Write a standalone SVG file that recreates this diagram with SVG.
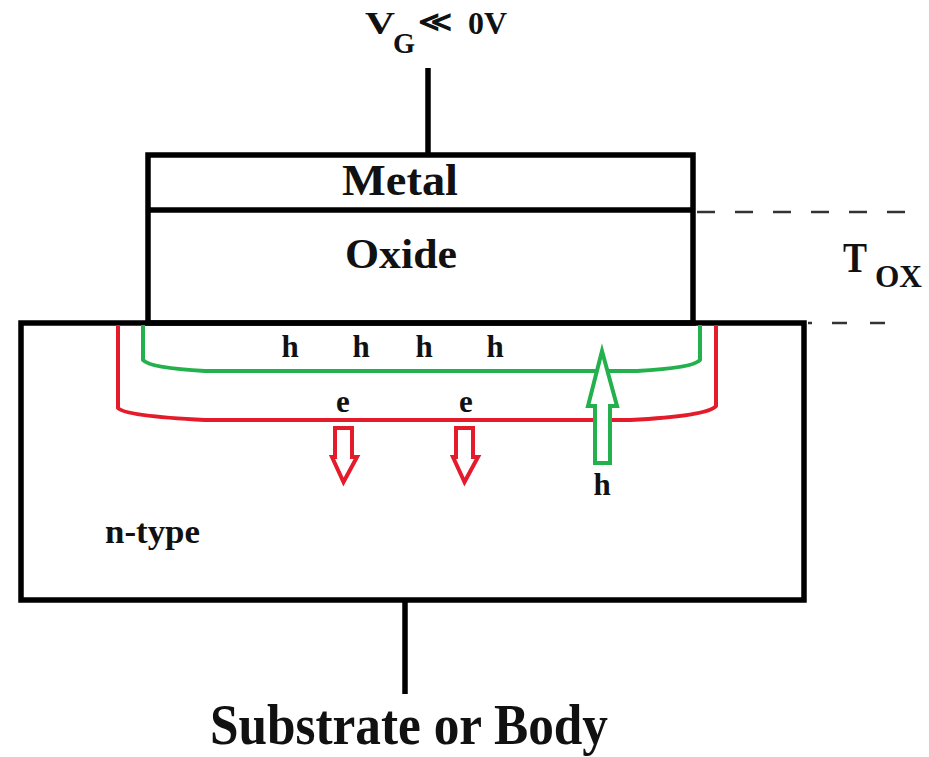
<svg xmlns="http://www.w3.org/2000/svg" width="929" height="757" viewBox="0 0 929 757">
<style>
.t{font-family:"Liberation Serif","Times New Roman",serif;font-weight:bold;fill:#111}
.blk{fill:none;stroke:#000;stroke-width:5.5}
.dash{stroke:#333;stroke-width:2.5}
.grn{fill:none;stroke:#22b14c;stroke-width:4;stroke-linejoin:round}
.red{fill:none;stroke:#e31b2b;stroke-width:4;stroke-linejoin:round}
.garr{fill:#fff;stroke:#22b14c;stroke-width:4;stroke-linejoin:miter}
.rarr{fill:#fff;stroke:#e31b2b;stroke-width:4;stroke-linejoin:miter}
</style>
<rect width="929" height="757" fill="#fff"/>
<g id="connectors">
<line class="blk" x1="428" y1="68" x2="428" y2="155"/>
<line class="blk" x1="405" y1="600" x2="405" y2="694"/>
<line class="dash" x1="697" y1="212" x2="905" y2="212" stroke-dasharray="18 20"/>
<line class="dash" x1="808" y1="323" x2="812" y2="323"/>
<line class="dash" x1="832" y1="323" x2="890" y2="323" stroke-dasharray="15 23"/>
</g>
<g id="substrate">
<rect class="blk" x="21" y="323" width="783" height="277"/>
<text class="t" x="105" y="543" font-size="34" textLength="95" lengthAdjust="spacingAndGlyphs">n-type</text>
</g>
<g id="gate">
<rect class="blk" x="148" y="155" width="545" height="168"/>
<line class="blk" x1="148" y1="210" x2="693" y2="210"/>
<text class="t" x="400" y="195" font-size="44" text-anchor="middle" textLength="116" lengthAdjust="spacingAndGlyphs">Metal</text>
<text class="t" x="401" y="268" font-size="42" text-anchor="middle" textLength="112" lengthAdjust="spacingAndGlyphs">Oxide</text>
</g>
<g id="hole-layer">
<path class="grn" d="M143,325 L143,360 Q150,368 205,371 L637,371 Q693,368 700,360 L700,325"/>
<text class="t" x="290" y="357" font-size="31" text-anchor="middle">h</text>
<text class="t" x="361" y="357" font-size="31" text-anchor="middle">h</text>
<text class="t" x="424" y="357" font-size="31" text-anchor="middle">h</text>
<text class="t" x="495" y="357" font-size="31" text-anchor="middle">h</text>
</g>
<g id="depletion">
<path class="red" d="M118,325 L118,408 Q125,416 205,420 L630,420 Q708,416 716,406 L716,325"/>
<text class="t" x="343" y="412" font-size="31" text-anchor="middle">e</text>
<text class="t" x="466" y="412" font-size="31" text-anchor="middle">e</text>
</g>
<g id="arrows">
<polygon class="rarr" points="335,428 352,428 352,457 357,457 343.5,482 332,457 335,457"/>
<polygon class="rarr" points="456,428 473,428 473,457 478,457 464.5,482 453,457 456,457"/>
<polygon class="garr" points="595,463 610,463 610,406 617,406 602,351 588,406 595,406"/>
<text class="t" x="602" y="495" font-size="31" text-anchor="middle">h</text>
</g>
<g id="labels">
<text class="t" x="365" y="34" font-size="32" textLength="30" lengthAdjust="spacingAndGlyphs">V</text>
<text class="t" x="393" y="53" font-size="30" textLength="22" lengthAdjust="spacingAndGlyphs">G</text>
<text class="t" x="418" y="31" font-size="28" font-family="'DejaVu Sans',sans-serif" textLength="34" lengthAdjust="spacingAndGlyphs">≪</text>
<text class="t" x="468" y="34" font-size="32" textLength="39" lengthAdjust="spacingAndGlyphs">0V</text>
<text class="t" x="843" y="272" font-size="42" textLength="24" lengthAdjust="spacingAndGlyphs">T</text>
<text class="t" x="875" y="287" font-size="31" textLength="47" lengthAdjust="spacingAndGlyphs">OX</text>
<text class="t" x="210" y="744" font-size="56" textLength="398" lengthAdjust="spacingAndGlyphs">Substrate or Body</text>
</g>
</svg>
